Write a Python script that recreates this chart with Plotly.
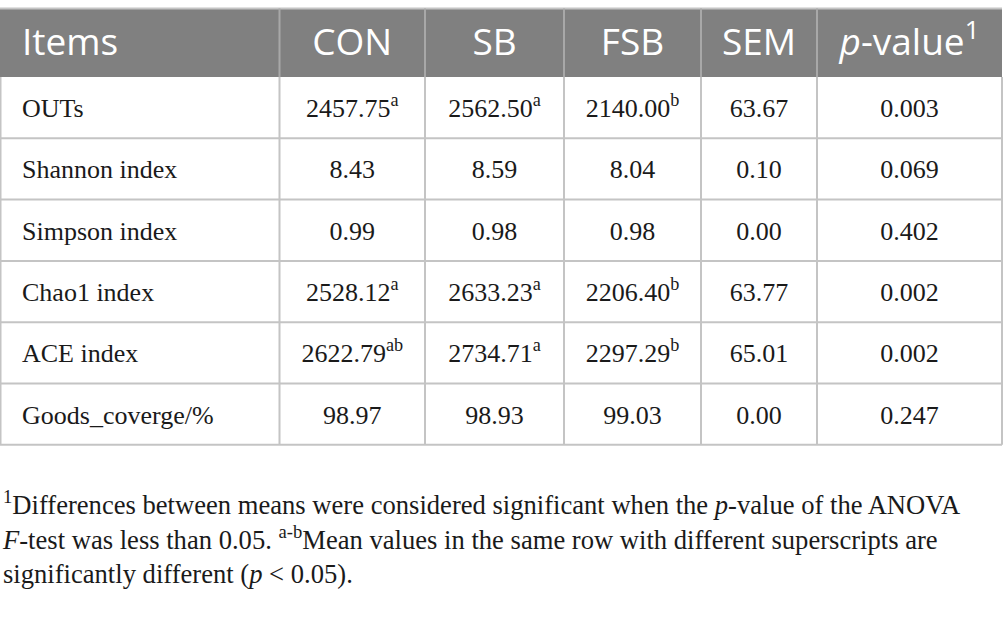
import plotly.graph_objects as go

# ---------------- data ----------------
headers = ["Items", "CON", "SB", "FSB", "SEM", "<i>p</i>-value<sup>1</sup>"]
items = ["OUTs", "Shannon index", "Simpson index", "Chao1 index", "ACE index", "Goods_coverge/%"]
con = [2457.75, 8.43, 0.99, 2528.12, 2622.79, 98.97]
con_sup = ["a", "", "", "a", "ab", ""]
sb = [2562.50, 8.59, 0.98, 2633.23, 2734.71, 98.93]
sb_sup = ["a", "", "", "a", "a", ""]
fsb = [2140.00, 8.04, 0.98, 2206.40, 2297.29, 99.03]
fsb_sup = ["b", "", "", "b", "b", ""]
sem = [63.67, 0.10, 0.00, 63.77, 65.01, 0.00]
pval = [0.003, 0.069, 0.402, 0.002, 0.002, 0.247]
footnote_lines = [
    "<sup>1</sup>Differences between means were considered significant when the <i>p</i>-value of the ANOVA",
    "<i>F</i>-test was less than 0.05. <sup>a-b</sup>Mean values in the same row with different superscripts are",
    "significantly different (<i>p</i> &lt; 0.05).",
]

# ---------------- layout geometry (styling) ----------------
W, H = 1003, 627
col_edges = [0.5, 279.5, 425, 564, 701, 817, 1002]
header_top, header_bot = 8.5, 77
row_h = 61.3
n_rows = len(items)
row_edges = [header_bot + i * row_h for i in range(n_rows + 1)]
foot_mid = 537

def fmt(vals, sups=None, dec=2):
    out = []
    for i, v in enumerate(vals):
        s = f"{v:.{dec}f}"
        if sups and sups[i]:
            s += f"<sup>{sups[i]}</sup>"
        out.append(s)
    return out

columns = [items, fmt(con, con_sup), fmt(sb, sb_sup), fmt(fsb, fsb_sup), fmt(sem), fmt(pval, dec=3)]

fig = go.Figure()

shapes = []
shapes.append(dict(type="rect", xref="x", yref="y", x0=0, x1=col_edges[-1],
                   y0=header_top, y1=header_bot, fillcolor="#808080", line=dict(width=0), layer="below"))
shapes.append(dict(type="line", xref="x", yref="y", x0=0, x1=col_edges[-1],
                   y0=header_top, y1=header_top, line=dict(color="#c4c4c4", width=2)))
for xe in col_edges[1:-1]:
    shapes.append(dict(type="line", xref="x", yref="y", x0=xe, x1=xe, y0=header_top, y1=header_bot,
                       line=dict(color="#a8a8a8", width=2)))
for ye in row_edges[1:]:
    shapes.append(dict(type="line", xref="x", yref="y", x0=0, x1=col_edges[-1],
                       y0=ye, y1=ye, line=dict(color="#c4c4c4", width=2)))
for xe in col_edges:
    shapes.append(dict(type="line", xref="x", yref="y", x0=xe, x1=xe, y0=header_bot, y1=row_edges[-1],
                       line=dict(color="#c4c4c4", width=2)))

# header text
hx = [22] + [(col_edges[i] + col_edges[i + 1]) / 2 for i in range(1, len(headers))]
hy = [(header_top + header_bot) / 2 + 3] * len(headers)
hfont = dict(family="Open Sans", size=37, color="white")
fig.add_trace(go.Scatter(x=hx[:1], y=hy[:1], mode="text", text=headers[:1], textposition="middle right",
                         textfont=hfont, hoverinfo="skip", showlegend=False))
fig.add_trace(go.Scatter(x=hx[1:], y=hy[1:], mode="text", text=headers[1:], textposition="middle center",
                         textfont=hfont, hoverinfo="skip", showlegend=False))

# body text
row_centers = [(row_edges[i] + row_edges[i + 1]) / 2 + 3 for i in range(n_rows)]
for ci, col in enumerate(columns):
    if ci == 0:
        xs = [22] * n_rows
        pos = "middle right"
    else:
        xs = [(col_edges[ci] + col_edges[ci + 1]) / 2] * n_rows
        pos = "middle center"
    fig.add_trace(go.Scatter(x=xs, y=row_centers, mode="text", text=col, textposition=pos,
                             textfont=dict(family="Liberation Serif", size=26, color="#1a1a1a"),
                             hoverinfo="skip", showlegend=False))

fig.add_annotation(x=0, y=foot_mid, xref="x", yref="y", xanchor="left", yanchor="middle",
                   align="left", text="<br>".join(footnote_lines), showarrow=False,
                   font=dict(family="Liberation Serif", size=26.6, color="#1a1a1a"))

fig.update_layout(
    width=W, height=H, margin=dict(l=0, r=0, t=0, b=0),
    paper_bgcolor="white", plot_bgcolor="white", shapes=shapes,
    xaxis=dict(range=[0, W], visible=False, fixedrange=True),
    yaxis=dict(range=[H, 0], visible=False, fixedrange=True),
)

fig.write_html("out.html", config={"displayModeBar": False},
               post_script="document.body.style.margin='0';document.body.style.overflow='hidden';")
